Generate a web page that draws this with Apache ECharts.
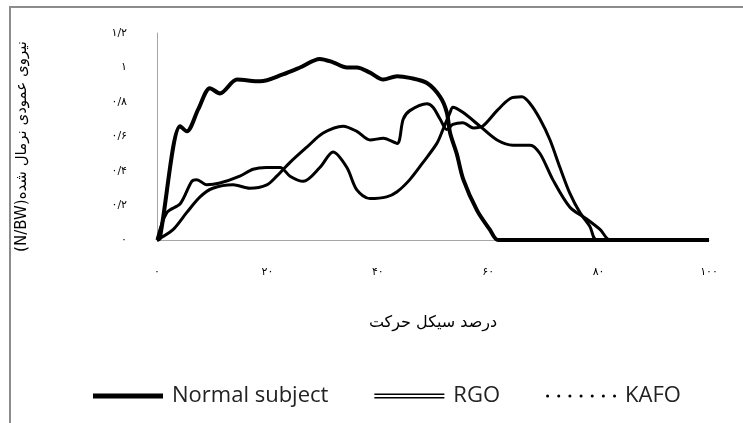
<!DOCTYPE html>
<html>
<head>
<meta charset="utf-8">
<script src="https://cdn.jsdelivr.net/npm/echarts@6/dist/echarts.min.js"></script>
<style>
  html, body { margin: 0; padding: 0; background: #fff; }
  #chart { width: 743px; height: 423px; }
</style>
</head>
<body>
<div id="chart"></div>
<script>
// درصد سیکل حرکت (x) و نیروی عمودی نرمال شده (y)
var normalX = [0, 0.5, 4.2, 5.4, 7.5, 9.6, 11.4, 14.5, 18.7, 22.8, 25.9, 29.5, 31.9, 34.4, 36.2, 38.6, 41, 43.5, 45.8, 48.9, 51.3, 52.5, 53.1, 54.3, 55.5, 58, 60.3, 61.8, 100];
var normalY = [0, 0.01, 0.66, 0.63, 0.76, 0.88, 0.85, 0.93, 0.92, 0.96, 1.0, 1.05, 1.03, 1.0, 1.0, 0.97, 0.93, 0.95, 0.94, 0.91, 0.83, 0.74, 0.62, 0.5, 0.35, 0.17, 0.06, 0, 0];

var rgoX = [0, 2.9, 5.4, 7.8, 10.1, 13.8, 16.8, 19.9, 21.7, 24.1, 27.2, 30.1, 33.7, 36.2, 38.6, 41, 43.5, 44.6, 45.8, 48.9, 50, 51.3, 52.5, 53.6, 55.4, 57.3, 59, 61.6, 64, 66.1, 67.6, 69.4, 71.2, 73, 74.8, 76.6, 78.4, 79.7, 100];
var rgoY = [0, 0.06, 0.16, 0.25, 0.3, 0.32, 0.3, 0.32, 0.37, 0.45, 0.54, 0.62, 0.66, 0.63, 0.58, 0.59, 0.56, 0.7, 0.75, 0.79, 0.77, 0.7, 0.64, 0.67, 0.68, 0.65, 0.66, 0.75, 0.82, 0.83, 0.79, 0.7, 0.58, 0.42, 0.27, 0.16, 0.08, 0, 0];

var kafoX = [0, 1.8, 4.2, 6.3, 7.2, 9.0, 11.4, 15, 17.4, 19.8, 22.3, 24.1, 26.5, 29.5, 31.9, 34.4, 36.2, 38.6, 41.6, 43.5, 45.8, 48.2, 50.7, 51.8, 53.1, 53.6, 55.4, 58.5, 61.6, 64.5, 67.6, 69.4, 71.7, 74.8, 77.9, 80.3, 82.1, 100];
var kafoY = [0, 0.16, 0.21, 0.34, 0.35, 0.32, 0.33, 0.37, 0.41, 0.42, 0.42, 0.37, 0.34, 0.42, 0.51, 0.42, 0.29, 0.24, 0.25, 0.28, 0.35, 0.45, 0.56, 0.64, 0.74, 0.77, 0.74, 0.66, 0.58, 0.55, 0.55, 0.5, 0.35, 0.19, 0.12, 0.06, 0, 0];

var seriesNames = ["Normal subject", "RGO", "KAFO"];

// ارقام فارسی
function fa(v) {
  var digits = "۰۱۲۳۴۵۶۷۸۹";
  return String(v).replace(".", "/").replace(/\d/g, function (d) { return digits[d]; });
}

function zip(xs, ys) {
  return xs.map(function (x, i) { return [x, ys[i]]; });
}

var chart = echarts.init(document.getElementById("chart"));
var faFont = "'DejaVu Sans', sans-serif";
var dot = function (x) { return "M" + x + ",1.5a1.5,1.5 0 1,0 3,0a1.5,1.5 0 1,0 -3,0Z"; };

var option = {
  backgroundColor: "#fff",
  animation: false,
  graphic: [
    {
      type: "rect",
      shape: { x: 10, y: 7, width: 760, height: 440 },
      style: { fill: "none", stroke: "#8c8c8c", lineWidth: 2 }
    }
  ],
  grid: { left: 157, right: 34, top: 33, bottom: 183 },
  legend: {
    left: 88,
    top: 380,
    itemWidth: 70,
    itemHeight: 6,
    itemGap: 46,
    textStyle: { fontFamily: "'Open Sans', sans-serif", fontSize: 22, color: "#222", padding: [0, 0, 0, 4] },
    itemStyle: { color: "#000" },
    data: [
      { name: seriesNames[0], icon: "path://M0,0H70V5H0Z" },
      { name: seriesNames[1], icon: "path://M0,0H70V1.5H0Z M0,3.5H70V5H0Z" },
      { name: seriesNames[2], icon: "path://" + [0, 11, 22, 33, 44, 55, 66].map(dot).join(" ") }
    ]
  },
  xAxis: {
    type: "value",
    min: 0,
    max: 100,
    interval: 20,
    name: "درصد سیکل حرکت",
    nameLocation: "middle",
    nameGap: 75,
    nameTextStyle: { fontFamily: faFont, fontSize: 16, color: "#000" },
    axisLine: { lineStyle: { color: "#a6a6a6", width: 1 } },
    axisTick: { show: false },
    splitLine: { show: false },
    axisLabel: { margin: 27, fontFamily: faFont, fontSize: 11, color: "#000", formatter: fa }
  },
  yAxis: {
    type: "value",
    min: 0,
    max: 1.2,
    interval: 0.2,
    name: "(N/BW)نیروی عمودی نرمال شده",
    nameLocation: "middle",
    nameGap: 127,
    nameRotate: 90,
    nameTextStyle: { fontFamily: faFont, fontSize: 15, color: "#000", padding: [0, 20, 0, 0] },
    axisLine: { show: true, lineStyle: { color: "#a6a6a6", width: 1 } },
    axisTick: { show: false },
    splitLine: { show: false },
    axisLabel: { margin: 30, fontFamily: faFont, fontSize: 11, color: "#000", formatter: function (v) { return fa(Math.round(v * 10) / 10); } }
  },
  series: [
    {
      name: seriesNames[0],
      type: "line",
      data: zip(normalX, normalY),
      smooth: 0.3,
      symbol: "none",
      itemStyle: { color: "#000" },
      lineStyle: { color: "#000", width: 4 }
    },
    {
      name: seriesNames[1],
      type: "line",
      data: zip(rgoX, rgoY),
      smooth: 0.3,
      symbol: "none",
      itemStyle: { color: "#000" },
      lineStyle: { color: "#000", width: 3 }
    },
    {
      name: seriesNames[2],
      type: "line",
      data: zip(kafoX, kafoY),
      smooth: 0.3,
      symbol: "none",
      itemStyle: { color: "#000" },
      lineStyle: { color: "#000", width: 3 }
    }
  ]
};

chart.setOption(option);
window.onresize = chart.resize;
</script>
</body>
</html>
